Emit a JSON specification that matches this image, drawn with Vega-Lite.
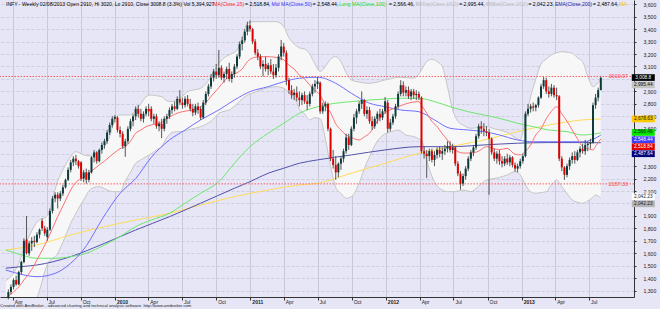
{
"$schema":"https://vega.github.io/schema/vega-lite/v6.json",
"width":634,"height":297,
"autosize":{"type":"none"},
"padding":{"left":0,"top":0,"right":26,"bottom":12},
"background":"#e6e6f7",
"config":{"view":{"stroke":null,"fill":"#e6e6f7"},"font":"Liberation Sans",
 "axisY":{"tickCount":24,"labelExpr":"indexof([3000,2500,2400,2000], datum.value) >= 0 ? '' : format(datum.value, ',')","labelOverlap":false,"grid":true,"gridColor":"#cdcddc","gridDash":[3,2],"labelFontSize":5.1,"labelColor":"#222","labelPadding":7,"tickSize":2,"tickColor":"#333","domainColor":"#333","labelAlign":"left","labelBaseline":"middle"}},
"title":{"text":"Created with AmiBroker - advanced charting and technical analysis software. http://www.amibroker.com","orient":"bottom","anchor":"start","frame":"group","fontSize":4.2,"fontWeight":"normal","color":"#222","offset":0},
"datasets":{
"candles":[
{"d":"2009-03-20","o":1240,"h":1310,"l":1230,"c":1290},
{"d":"2009-03-27","o":1290,"h":1350,"l":1270,"c":1330},
{"d":"2009-04-03","o":1330,"h":1400,"l":1310,"c":1385},
{"d":"2009-04-10","o":1385,"h":1420,"l":1340,"c":1350},
{"d":"2009-04-17","o":1350,"h":1460,"l":1345,"c":1450},
{"d":"2009-04-24","o":1450,"h":1540,"l":1430,"c":1530},
{"d":"2009-05-01","o":1530,"h":1720,"l":1520,"c":1700},
{"d":"2009-05-08","o":1710,"h":1900,"l":1590,"c":1600},
{"d":"2009-05-15","o":1600,"h":1700,"l":1580,"c":1680},
{"d":"2009-05-22","o":1680,"h":1730,"l":1620,"c":1700},
{"d":"2009-05-29","o":1700,"h":1740,"l":1650,"c":1690},
{"d":"2009-06-05","o":1690,"h":1770,"l":1680,"c":1750},
{"d":"2009-06-12","o":1750,"h":1800,"l":1720,"c":1790},
{"d":"2009-06-19","o":1860,"h":1880,"l":1780,"c":1800},
{"d":"2009-06-26","o":1800,"h":1820,"l":1740,"c":1760},
{"d":"2009-07-03","o":1730,"h":1810,"l":1700,"c":1790},
{"d":"2009-07-10","o":1790,"h":1960,"l":1780,"c":1940},
{"d":"2009-07-17","o":1940,"h":2060,"l":1920,"c":2040},
{"d":"2009-07-24","o":2040,"h":2090,"l":2010,"c":2070},
{"d":"2009-07-31","o":2070,"h":2090,"l":1960,"c":2040},
{"d":"2009-08-07","o":2040,"h":2100,"l":2020,"c":2080},
{"d":"2009-08-14","o":2080,"h":2150,"l":2060,"c":2130},
{"d":"2009-08-21","o":2130,"h":2200,"l":2120,"c":2190},
{"d":"2009-08-28","o":2190,"h":2290,"l":2180,"c":2270},
{"d":"2009-09-04","o":2270,"h":2350,"l":2250,"c":2330},
{"d":"2009-09-11","o":2330,"h":2380,"l":2300,"c":2360},
{"d":"2009-09-18","o":2360,"h":2390,"l":2310,"c":2340},
{"d":"2009-09-25","o":2340,"h":2350,"l":2280,"c":2300},
{"d":"2009-10-02","o":2330,"h":2340,"l":2180,"c":2200},
{"d":"2009-10-09","o":2200,"h":2270,"l":2170,"c":2250},
{"d":"2009-10-16","o":2250,"h":2280,"l":2160,"c":2190},
{"d":"2009-10-23","o":2190,"h":2270,"l":2170,"c":2250},
{"d":"2009-10-30","o":2250,"h":2380,"l":2240,"c":2370},
{"d":"2009-11-06","o":2370,"h":2430,"l":2330,"c":2410},
{"d":"2009-11-13","o":2410,"h":2420,"l":2320,"c":2340},
{"d":"2009-11-20","o":2340,"h":2440,"l":2330,"c":2430},
{"d":"2009-11-27","o":2430,"h":2490,"l":2400,"c":2470},
{"d":"2009-12-04","o":2470,"h":2520,"l":2440,"c":2500},
{"d":"2009-12-11","o":2500,"h":2590,"l":2480,"c":2570},
{"d":"2009-12-18","o":2570,"h":2650,"l":2550,"c":2630},
{"d":"2009-12-25","o":2630,"h":2700,"l":2610,"c":2680},
{"d":"2010-01-01","o":2680,"h":2710,"l":2650,"c":2695},
{"d":"2010-01-08","o":2690,"h":2700,"l":2570,"c":2590},
{"d":"2010-01-15","o":2590,"h":2620,"l":2530,"c":2560},
{"d":"2010-01-22","o":2560,"h":2580,"l":2440,"c":2460},
{"d":"2010-01-29","o":2460,"h":2520,"l":2375,"c":2500},
{"d":"2010-02-05","o":2500,"h":2620,"l":2480,"c":2600},
{"d":"2010-02-12","o":2600,"h":2680,"l":2580,"c":2660},
{"d":"2010-02-19","o":2660,"h":2720,"l":2620,"c":2700},
{"d":"2010-02-26","o":2700,"h":2780,"l":2670,"c":2760},
{"d":"2010-03-05","o":2760,"h":2790,"l":2690,"c":2720},
{"d":"2010-03-12","o":2720,"h":2760,"l":2660,"c":2680},
{"d":"2010-03-19","o":2680,"h":2740,"l":2650,"c":2720},
{"d":"2010-03-26","o":2720,"h":2780,"l":2700,"c":2760},
{"d":"2010-04-02","o":2760,"h":2800,"l":2700,"c":2740},
{"d":"2010-04-09","o":2760,"h":2780,"l":2660,"c":2680},
{"d":"2010-04-16","o":2680,"h":2720,"l":2640,"c":2700},
{"d":"2010-04-23","o":2700,"h":2720,"l":2600,"c":2620},
{"d":"2010-04-30","o":2620,"h":2660,"l":2580,"c":2640},
{"d":"2010-05-07","o":2640,"h":2680,"l":2525,"c":2600},
{"d":"2010-05-14","o":2600,"h":2700,"l":2580,"c":2680},
{"d":"2010-05-21","o":2680,"h":2720,"l":2640,"c":2700},
{"d":"2010-05-28","o":2700,"h":2770,"l":2680,"c":2750},
{"d":"2010-06-04","o":2750,"h":2800,"l":2720,"c":2780},
{"d":"2010-06-11","o":2780,"h":2820,"l":2740,"c":2760},
{"d":"2010-06-18","o":2760,"h":2860,"l":2750,"c":2840},
{"d":"2010-06-25","o":2840,"h":2910,"l":2790,"c":2810},
{"d":"2010-07-02","o":2810,"h":2850,"l":2760,"c":2790},
{"d":"2010-07-09","o":2790,"h":2860,"l":2770,"c":2840},
{"d":"2010-07-16","o":2840,"h":2870,"l":2780,"c":2800},
{"d":"2010-07-23","o":2800,"h":2840,"l":2740,"c":2760},
{"d":"2010-07-30","o":2760,"h":2800,"l":2700,"c":2730},
{"d":"2010-08-06","o":2730,"h":2800,"l":2710,"c":2780},
{"d":"2010-08-13","o":2780,"h":2810,"l":2720,"c":2750},
{"d":"2010-08-20","o":2760,"h":2780,"l":2670,"c":2690},
{"d":"2010-08-27","o":2690,"h":2830,"l":2680,"c":2810},
{"d":"2010-09-03","o":2810,"h":2900,"l":2790,"c":2880},
{"d":"2010-09-10","o":2880,"h":2960,"l":2860,"c":2940},
{"d":"2010-09-17","o":2940,"h":3040,"l":2920,"c":3010},
{"d":"2010-09-24","o":3010,"h":3080,"l":2980,"c":3060},
{"d":"2010-10-01","o":3060,"h":3120,"l":3000,"c":3030},
{"d":"2010-10-08","o":3030,"h":3233,"l":3010,"c":3090},
{"d":"2010-10-15","o":3090,"h":3110,"l":2990,"c":3010},
{"d":"2010-10-22","o":3010,"h":3060,"l":2970,"c":3040},
{"d":"2010-10-29","o":3040,"h":3100,"l":3000,"c":3080},
{"d":"2010-11-05","o":3080,"h":3130,"l":2980,"c":3000},
{"d":"2010-11-12","o":3000,"h":3060,"l":2970,"c":3040},
{"d":"2010-11-19","o":3040,"h":3120,"l":3010,"c":3100},
{"d":"2010-11-26","o":3100,"h":3200,"l":3080,"c":3180},
{"d":"2010-12-03","o":3180,"h":3300,"l":3160,"c":3280},
{"d":"2010-12-10","o":3280,"h":3340,"l":3230,"c":3310},
{"d":"2010-12-17","o":3310,"h":3400,"l":3290,"c":3380},
{"d":"2010-12-24","o":3380,"h":3460,"l":3350,"c":3430},
{"d":"2010-12-31","o":3430,"h":3470,"l":3380,"c":3400},
{"d":"2011-01-07","o":3400,"h":3410,"l":3280,"c":3300},
{"d":"2011-01-14","o":3300,"h":3320,"l":3190,"c":3210},
{"d":"2011-01-21","o":3210,"h":3240,"l":3150,"c":3180},
{"d":"2011-01-28","o":3180,"h":3200,"l":3080,"c":3100},
{"d":"2011-02-04","o":3100,"h":3150,"l":3020,"c":3120},
{"d":"2011-02-11","o":3120,"h":3180,"l":3060,"c":3080},
{"d":"2011-02-18","o":3080,"h":3130,"l":3030,"c":3110},
{"d":"2011-02-25","o":3110,"h":3160,"l":3040,"c":3060},
{"d":"2011-03-04","o":3060,"h":3120,"l":3000,"c":3030},
{"d":"2011-03-11","o":3030,"h":3120,"l":3010,"c":3090},
{"d":"2011-03-18","o":3090,"h":3200,"l":3060,"c":3180},
{"d":"2011-03-25","o":3180,"h":3313,"l":3150,"c":3260},
{"d":"2011-04-01","o":3260,"h":3290,"l":3180,"c":3210},
{"d":"2011-04-08","o":3210,"h":3230,"l":2950,"c":2990},
{"d":"2011-04-15","o":2990,"h":3010,"l":2880,"c":2910},
{"d":"2011-04-22","o":2910,"h":2950,"l":2840,"c":2870},
{"d":"2011-04-29","o":2870,"h":2920,"l":2830,"c":2890},
{"d":"2011-05-06","o":2890,"h":2940,"l":2820,"c":2850},
{"d":"2011-05-13","o":2850,"h":2900,"l":2780,"c":2830},
{"d":"2011-05-20","o":2830,"h":2890,"l":2790,"c":2870},
{"d":"2011-05-27","o":2870,"h":2900,"l":2800,"c":2820},
{"d":"2011-06-03","o":2820,"h":2870,"l":2750,"c":2800},
{"d":"2011-06-10","o":2800,"h":2900,"l":2780,"c":2880},
{"d":"2011-06-17","o":2880,"h":2960,"l":2860,"c":2940},
{"d":"2011-06-24","o":2940,"h":2990,"l":2890,"c":2960},
{"d":"2011-07-01","o":2960,"h":3015,"l":2920,"c":2980},
{"d":"2011-07-08","o":2970,"h":2980,"l":2720,"c":2740},
{"d":"2011-07-15","o":2740,"h":2810,"l":2720,"c":2780},
{"d":"2011-07-22","o":2780,"h":2820,"l":2740,"c":2800},
{"d":"2011-07-29","o":2800,"h":2810,"l":2580,"c":2600},
{"d":"2011-08-05","o":2600,"h":2610,"l":2340,"c":2360},
{"d":"2011-08-12","o":2360,"h":2430,"l":2280,"c":2310},
{"d":"2011-08-19","o":2310,"h":2380,"l":2190,"c":2250},
{"d":"2011-08-26","o":2250,"h":2330,"l":2210,"c":2320},
{"d":"2011-09-02","o":2320,"h":2380,"l":2270,"c":2360},
{"d":"2011-09-09","o":2360,"h":2440,"l":2330,"c":2420},
{"d":"2011-09-16","o":2420,"h":2560,"l":2400,"c":2530},
{"d":"2011-09-23","o":2530,"h":2560,"l":2430,"c":2470},
{"d":"2011-09-30","o":2470,"h":2620,"l":2460,"c":2600},
{"d":"2011-10-07","o":2600,"h":2720,"l":2580,"c":2690},
{"d":"2011-10-14","o":2690,"h":2760,"l":2640,"c":2740},
{"d":"2011-10-21","o":2740,"h":2820,"l":2720,"c":2800},
{"d":"2011-10-28","o":2800,"h":2900,"l":2760,"c":2830},
{"d":"2011-11-04","o":2830,"h":2840,"l":2700,"c":2720},
{"d":"2011-11-11","o":2720,"h":2780,"l":2680,"c":2750},
{"d":"2011-11-18","o":2750,"h":2775,"l":2640,"c":2660},
{"d":"2011-11-25","o":2660,"h":2700,"l":2590,"c":2620},
{"d":"2011-12-02","o":2620,"h":2700,"l":2600,"c":2680},
{"d":"2011-12-09","o":2680,"h":2740,"l":2640,"c":2720},
{"d":"2011-12-16","o":2720,"h":2760,"l":2660,"c":2690},
{"d":"2011-12-23","o":2690,"h":2760,"l":2670,"c":2740},
{"d":"2011-12-30","o":2740,"h":2855,"l":2720,"c":2820},
{"d":"2012-01-06","o":2810,"h":2830,"l":2570,"c":2600},
{"d":"2012-01-13","o":2600,"h":2680,"l":2580,"c":2650},
{"d":"2012-01-20","o":2650,"h":2720,"l":2630,"c":2700},
{"d":"2012-01-27","o":2700,"h":2800,"l":2680,"c":2780},
{"d":"2012-02-03","o":2780,"h":2900,"l":2760,"c":2880},
{"d":"2012-02-10","o":2880,"h":2990,"l":2860,"c":2950},
{"d":"2012-02-17","o":2950,"h":2980,"l":2860,"c":2890},
{"d":"2012-02-24","o":2890,"h":2940,"l":2860,"c":2910},
{"d":"2012-03-02","o":2910,"h":2940,"l":2840,"c":2860},
{"d":"2012-03-09","o":2860,"h":2920,"l":2830,"c":2900},
{"d":"2012-03-16","o":2900,"h":2920,"l":2840,"c":2870},
{"d":"2012-03-23","o":2870,"h":2910,"l":2830,"c":2880},
{"d":"2012-03-30","o":2880,"h":2900,"l":2830,"c":2850},
{"d":"2012-04-06","o":2850,"h":2860,"l":2400,"c":2420},
{"d":"2012-04-13","o":2420,"h":2460,"l":2360,"c":2400},
{"d":"2012-04-20","o":2400,"h":2430,"l":2205,"c":2380},
{"d":"2012-04-27","o":2380,"h":2440,"l":2340,"c":2420},
{"d":"2012-05-04","o":2420,"h":2440,"l":2330,"c":2350},
{"d":"2012-05-11","o":2350,"h":2420,"l":2300,"c":2390},
{"d":"2012-05-18","o":2390,"h":2450,"l":2360,"c":2430},
{"d":"2012-05-25","o":2430,"h":2460,"l":2370,"c":2400},
{"d":"2012-06-01","o":2400,"h":2450,"l":2350,"c":2420},
{"d":"2012-06-08","o":2420,"h":2470,"l":2390,"c":2440},
{"d":"2012-06-15","o":2440,"h":2500,"l":2410,"c":2460},
{"d":"2012-06-22","o":2460,"h":2500,"l":2410,"c":2430},
{"d":"2012-06-29","o":2430,"h":2480,"l":2400,"c":2450},
{"d":"2012-07-06","o":2450,"h":2460,"l":2300,"c":2320},
{"d":"2012-07-13","o":2320,"h":2340,"l":2220,"c":2240},
{"d":"2012-07-20","o":2240,"h":2260,"l":2110,"c":2160},
{"d":"2012-07-27","o":2160,"h":2240,"l":2140,"c":2220},
{"d":"2012-08-03","o":2220,"h":2300,"l":2190,"c":2280},
{"d":"2012-08-10","o":2280,"h":2380,"l":2260,"c":2360},
{"d":"2012-08-17","o":2360,"h":2430,"l":2340,"c":2410},
{"d":"2012-08-24","o":2410,"h":2470,"l":2380,"c":2450},
{"d":"2012-08-31","o":2450,"h":2560,"l":2430,"c":2540},
{"d":"2012-09-07","o":2540,"h":2640,"l":2520,"c":2620},
{"d":"2012-09-14","o":2620,"h":2660,"l":2560,"c":2600},
{"d":"2012-09-21","o":2600,"h":2645,"l":2540,"c":2580},
{"d":"2012-09-28","o":2580,"h":2620,"l":2540,"c":2570},
{"d":"2012-10-05","o":2570,"h":2600,"l":2070,"c":2520},
{"d":"2012-10-12","o":2520,"h":2530,"l":2390,"c":2410},
{"d":"2012-10-19","o":2410,"h":2440,"l":2340,"c":2360},
{"d":"2012-10-26","o":2360,"h":2420,"l":2320,"c":2400},
{"d":"2012-11-02","o":2400,"h":2430,"l":2310,"c":2340},
{"d":"2012-11-09","o":2340,"h":2380,"l":2290,"c":2320},
{"d":"2012-11-16","o":2320,"h":2380,"l":2300,"c":2360},
{"d":"2012-11-23","o":2360,"h":2400,"l":2310,"c":2330},
{"d":"2012-11-30","o":2330,"h":2390,"l":2300,"c":2370},
{"d":"2012-12-07","o":2370,"h":2380,"l":2290,"c":2310},
{"d":"2012-12-14","o":2310,"h":2330,"l":2255,"c":2280},
{"d":"2012-12-21","o":2280,"h":2320,"l":2250,"c":2300},
{"d":"2012-12-28","o":2300,"h":2360,"l":2280,"c":2340},
{"d":"2013-01-04","o":2340,"h":2400,"l":2320,"c":2380},
{"d":"2013-01-11","o":2380,"h":2740,"l":2370,"c":2720},
{"d":"2013-01-18","o":2720,"h":2800,"l":2700,"c":2760},
{"d":"2013-01-25","o":2760,"h":2800,"l":2730,"c":2780},
{"d":"2013-02-01","o":2780,"h":2810,"l":2740,"c":2770},
{"d":"2013-02-08","o":2770,"h":2800,"l":2740,"c":2790},
{"d":"2013-02-15","o":2790,"h":2860,"l":2770,"c":2850},
{"d":"2013-02-22","o":2850,"h":2960,"l":2840,"c":2940},
{"d":"2013-03-01","o":2940,"h":3015,"l":2920,"c":2990},
{"d":"2013-03-08","o":2990,"h":3010,"l":2880,"c":2900},
{"d":"2013-03-15","o":2900,"h":2940,"l":2850,"c":2880},
{"d":"2013-03-22","o":2880,"h":2960,"l":2860,"c":2930},
{"d":"2013-03-29","o":2930,"h":2950,"l":2850,"c":2870},
{"d":"2013-04-05","o":2870,"h":2930,"l":2830,"c":2860},
{"d":"2013-04-12","o":2860,"h":2870,"l":2340,"c":2360},
{"d":"2013-04-19","o":2360,"h":2380,"l":2260,"c":2290},
{"d":"2013-04-26","o":2290,"h":2300,"l":2190,"c":2230},
{"d":"2013-05-03","o":2230,"h":2320,"l":2210,"c":2300},
{"d":"2013-05-10","o":2300,"h":2370,"l":2270,"c":2350},
{"d":"2013-05-17","o":2350,"h":2410,"l":2320,"c":2380},
{"d":"2013-05-24","o":2380,"h":2420,"l":2320,"c":2350},
{"d":"2013-05-31","o":2350,"h":2430,"l":2340,"c":2410},
{"d":"2013-06-07","o":2410,"h":2460,"l":2370,"c":2440},
{"d":"2013-06-14","o":2440,"h":2480,"l":2400,"c":2420},
{"d":"2013-06-21","o":2420,"h":2510,"l":2390,"c":2470},
{"d":"2013-06-28","o":2470,"h":2500,"l":2420,"c":2480},
{"d":"2013-07-05","o":2480,"h":2520,"l":2440,"c":2490},
{"d":"2013-07-12","o":2490,"h":2810,"l":2480,"c":2790},
{"d":"2013-07-19","o":2790,"h":2880,"l":2760,"c":2850},
{"d":"2013-07-26","o":2850,"h":2930,"l":2820,"c":2910},
{"d":"2013-08-02","o":2910,"h":3020,"l":2910,"c":3008.8}
],
"bb":[
{"d":"2009-03-13","m":1240,"u":1380,"l":1100},
{"d":"2009-04-03","m":1290,"u":1440,"l":1140},
{"d":"2009-04-17","m":1330,"u":1520,"l":1140},
{"d":"2009-05-01","m":1386,"u":1640,"l":1130},
{"d":"2009-05-22","m":1470,"u":1780,"l":1160},
{"d":"2009-06-05","m":1546,"u":1850,"l":1240},
{"d":"2009-07-03","m":1707,"u":1900,"l":1510},
{"d":"2009-07-31","m":1894,"u":2180,"l":1600},
{"d":"2009-08-14","m":1980,"u":2269,"l":1690},
{"d":"2009-09-04","m":2108,"u":2376,"l":1840},
{"d":"2009-09-18","m":2170,"u":2416,"l":1920},
{"d":"2009-10-09","m":2210,"u":2390,"l":2030},
{"d":"2009-10-30","m":2260,"u":2380,"l":2120},
{"d":"2009-11-20","m":2310,"u":2420,"l":2135},
{"d":"2009-12-04","m":2340,"u":2456,"l":2120},
{"d":"2009-12-18","m":2376,"u":2537,"l":2100},
{"d":"2010-01-01","m":2410,"u":2680,"l":2095},
{"d":"2010-01-15","m":2440,"u":2711,"l":2095},
{"d":"2010-01-29","m":2456,"u":2711,"l":2180},
{"d":"2010-02-12","m":2500,"u":2711,"l":2250},
{"d":"2010-02-26","m":2564,"u":2751,"l":2323},
{"d":"2010-03-12","m":2590,"u":2800,"l":2350},
{"d":"2010-03-26","m":2617,"u":2858,"l":2376},
{"d":"2010-04-09","m":2630,"u":2871,"l":2400},
{"d":"2010-04-23","m":2640,"u":2865,"l":2430},
{"d":"2010-05-07","m":2650,"u":2858,"l":2456},
{"d":"2010-05-21","m":2680,"u":2825,"l":2530},
{"d":"2010-06-04","m":2705,"u":2818,"l":2570},
{"d":"2010-06-18","m":2725,"u":2835,"l":2577},
{"d":"2010-07-02","m":2737,"u":2860,"l":2577},
{"d":"2010-07-16","m":2745,"u":2898,"l":2590},
{"d":"2010-07-30","m":2750,"u":2910,"l":2600},
{"d":"2010-08-20","m":2777,"u":2925,"l":2617},
{"d":"2010-09-03","m":2810,"u":2960,"l":2635},
{"d":"2010-09-17","m":2860,"u":3018,"l":2660},
{"d":"2010-10-08","m":2930,"u":3126,"l":2724},
{"d":"2010-10-22","m":2980,"u":3170,"l":2740},
{"d":"2010-11-05","m":3018,"u":3193,"l":2751},
{"d":"2010-11-26","m":3050,"u":3233,"l":2800},
{"d":"2010-12-10","m":3080,"u":3330,"l":2840},
{"d":"2010-12-24","m":3139,"u":3447,"l":2870},
{"d":"2011-01-14","m":3174,"u":3460,"l":2895},
{"d":"2011-02-11","m":3179,"u":3460,"l":2925},
{"d":"2011-03-11","m":3174,"u":3460,"l":2938},
{"d":"2011-04-01","m":3153,"u":3420,"l":2925},
{"d":"2011-04-15","m":3110,"u":3330,"l":2890},
{"d":"2011-04-29","m":3080,"u":3280,"l":2858},
{"d":"2011-05-13","m":3030,"u":3250,"l":2760},
{"d":"2011-05-27","m":3000,"u":3240,"l":2720},
{"d":"2011-06-10","m":2950,"u":3200,"l":2671},
{"d":"2011-06-24","m":2910,"u":3120,"l":2690},
{"d":"2011-07-08","m":2870,"u":3060,"l":2680},
{"d":"2011-07-22","m":2790,"u":3100,"l":2520},
{"d":"2011-08-05","m":2730,"u":3160,"l":2300},
{"d":"2011-08-19","m":2640,"u":3179,"l":2130},
{"d":"2011-09-02","m":2590,"u":3139,"l":2080},
{"d":"2011-09-16","m":2550,"u":3050,"l":2042},
{"d":"2011-09-30","m":2530,"u":2992,"l":2055},
{"d":"2011-10-21","m":2510,"u":2975,"l":2162},
{"d":"2011-11-04","m":2535,"u":2968,"l":2280},
{"d":"2011-11-18","m":2564,"u":2965,"l":2376},
{"d":"2011-12-09","m":2660,"u":2975,"l":2500},
{"d":"2011-12-30","m":2730,"u":2992,"l":2560},
{"d":"2012-01-20","m":2760,"u":3005,"l":2580},
{"d":"2012-02-03","m":2777,"u":3014,"l":2590},
{"d":"2012-02-24","m":2800,"u":3010,"l":2550},
{"d":"2012-03-16","m":2815,"u":3006,"l":2537},
{"d":"2012-03-30","m":2818,"u":3040,"l":2520},
{"d":"2012-04-06","m":2790,"u":3072,"l":2510},
{"d":"2012-04-20","m":2724,"u":3139,"l":2350},
{"d":"2012-05-04","m":2660,"u":3158,"l":2220},
{"d":"2012-05-18","m":2617,"u":3140,"l":2140},
{"d":"2012-06-01","m":2560,"u":3099,"l":2108},
{"d":"2012-06-15","m":2510,"u":2938,"l":2095},
{"d":"2012-06-29","m":2450,"u":2751,"l":2095},
{"d":"2012-07-13","m":2416,"u":2660,"l":2100},
{"d":"2012-07-27","m":2405,"u":2630,"l":2108},
{"d":"2012-08-17","m":2405,"u":2604,"l":2095},
{"d":"2012-09-07","m":2420,"u":2610,"l":2140},
{"d":"2012-09-28","m":2456,"u":2617,"l":2189},
{"d":"2012-10-19","m":2440,"u":2600,"l":2200},
{"d":"2012-11-02","m":2432,"u":2590,"l":2210},
{"d":"2012-11-23","m":2443,"u":2570,"l":2229},
{"d":"2012-12-14","m":2395,"u":2530,"l":2256},
{"d":"2012-12-28","m":2390,"u":2510,"l":2230},
{"d":"2013-01-11","m":2420,"u":2671,"l":2150},
{"d":"2013-01-25","m":2470,"u":2860,"l":2095},
{"d":"2013-02-08","m":2550,"u":3000,"l":2082},
{"d":"2013-02-22","m":2600,"u":3120,"l":2088},
{"d":"2013-03-08","m":2680,"u":3160,"l":2095},
{"d":"2013-03-22","m":2740,"u":3193,"l":2150},
{"d":"2013-04-05","m":2777,"u":3210,"l":2189},
{"d":"2013-04-19","m":2720,"u":3219,"l":2135},
{"d":"2013-05-03","m":2660,"u":3215,"l":2080},
{"d":"2013-05-17","m":2590,"u":3206,"l":2028},
{"d":"2013-05-31","m":2520,"u":3170,"l":2010},
{"d":"2013-06-14","m":2456,"u":3139,"l":2002},
{"d":"2013-06-28","m":2440,"u":3020,"l":2020},
{"d":"2013-07-12","m":2430,"u":2938,"l":2050},
{"d":"2013-07-19","m":2460,"u":2950,"l":2068},
{"d":"2013-08-02","m":2518.84,"u":2995.44,"l":2042.23}
],
"slow":[
{"d":"2009-03-13","s":"ma50","v":1466},{"d":"2009-05-01","s":"ma50","v":1426},{"d":"2009-06-05","s":"ma50","v":1412},{"d":"2009-07-24","s":"ma50","v":1439},{"d":"2009-09-04","s":"ma50","v":1520},{"d":"2009-09-25","s":"ma50","v":1580},{"d":"2009-10-16","s":"ma50","v":1660},{"d":"2009-11-27","s":"ma50","v":1870},{"d":"2010-01-15","s":"ma50","v":2082},{"d":"2010-02-26","s":"ma50","v":2200},{"d":"2010-04-09","s":"ma50","v":2370},{"d":"2010-05-28","s":"ma50","v":2510},{"d":"2010-07-09","s":"ma50","v":2590},{"d":"2010-08-20","s":"ma50","v":2671},{"d":"2010-10-08","s":"ma50","v":2751},{"d":"2010-11-19","s":"ma50","v":2831},{"d":"2010-12-31","s":"ma50","v":2898},{"d":"2011-02-18","s":"ma50","v":2938},{"d":"2011-04-01","s":"ma50","v":2978},{"d":"2011-05-13","s":"ma50","v":3006},{"d":"2011-07-01","s":"ma50","v":3014},{"d":"2011-08-19","s":"ma50","v":2965},{"d":"2011-09-30","s":"ma50","v":2885},{"d":"2011-11-18","s":"ma50","v":2805},{"d":"2011-12-30","s":"ma50","v":2777},{"d":"2012-02-10","s":"ma50","v":2751},{"d":"2012-03-30","s":"ma50","v":2737},{"d":"2012-05-11","s":"ma50","v":2671},{"d":"2012-06-22","s":"ma50","v":2604},{"d":"2012-08-10","s":"ma50","v":2590},{"d":"2012-09-21","s":"ma50","v":2577},{"d":"2012-11-02","s":"ma50","v":2550},{"d":"2012-12-21","s":"ma50","v":2510},{"d":"2013-02-01","s":"ma50","v":2496},{"d":"2013-03-15","s":"ma50","v":2496},{"d":"2013-05-03","s":"ma50","v":2496},{"d":"2013-06-14","s":"ma50","v":2496},{"d":"2013-07-12","s":"ma50","v":2515},{"d":"2013-08-02","s":"ma50","v":2548.44},
{"d":"2009-03-13","s":"ma100","v":1627},{"d":"2009-04-24","s":"ma100","v":1587},{"d":"2009-06-05","s":"ma100","v":1560},{"d":"2009-07-24","s":"ma100","v":1560},{"d":"2009-09-04","s":"ma100","v":1573},{"d":"2009-10-16","s":"ma100","v":1600},{"d":"2009-12-04","s":"ma100","v":1667},{"d":"2010-01-15","s":"ma100","v":1734},{"d":"2010-02-26","s":"ma100","v":1814},{"d":"2010-04-09","s":"ma100","v":1867},{"d":"2010-05-28","s":"ma100","v":1921},{"d":"2010-07-09","s":"ma100","v":2002},{"d":"2010-08-20","s":"ma100","v":2082},{"d":"2010-10-08","s":"ma100","v":2175},{"d":"2010-11-19","s":"ma100","v":2323},{"d":"2010-12-31","s":"ma100","v":2456},{"d":"2011-02-18","s":"ma100","v":2564},{"d":"2011-04-01","s":"ma100","v":2644},{"d":"2011-05-13","s":"ma100","v":2724},{"d":"2011-07-01","s":"ma100","v":2777},{"d":"2011-08-19","s":"ma100","v":2805},{"d":"2011-09-30","s":"ma100","v":2818},{"d":"2011-11-18","s":"ma100","v":2831},{"d":"2011-12-30","s":"ma100","v":2839},{"d":"2012-02-10","s":"ma100","v":2845},{"d":"2012-03-30","s":"ma100","v":2845},{"d":"2012-05-11","s":"ma100","v":2818},{"d":"2012-06-22","s":"ma100","v":2777},{"d":"2012-08-10","s":"ma100","v":2737},{"d":"2012-09-21","s":"ma100","v":2711},{"d":"2012-11-02","s":"ma100","v":2684},{"d":"2012-12-21","s":"ma100","v":2644},{"d":"2013-02-01","s":"ma100","v":2617},{"d":"2013-03-15","s":"ma100","v":2590},{"d":"2013-05-03","s":"ma100","v":2577},{"d":"2013-06-14","s":"ma100","v":2550},{"d":"2013-08-02","s":"ma100","v":2566.46},
{"d":"2009-03-13","s":"ema200","v":1480},{"d":"2009-04-24","s":"ema200","v":1493},{"d":"2009-06-05","s":"ema200","v":1506},{"d":"2009-09-04","s":"ema200","v":1573},{"d":"2009-12-04","s":"ema200","v":1680},{"d":"2010-02-26","s":"ema200","v":1787},{"d":"2010-05-28","s":"ema200","v":1894},{"d":"2010-08-20","s":"ema200","v":2002},{"d":"2010-11-19","s":"ema200","v":2122},{"d":"2010-12-31","s":"ema200","v":2175},{"d":"2011-02-18","s":"ema200","v":2243},{"d":"2011-04-01","s":"ema200","v":2283},{"d":"2011-05-13","s":"ema200","v":2323},{"d":"2011-07-01","s":"ema200","v":2350},{"d":"2011-09-30","s":"ema200","v":2390},{"d":"2011-12-30","s":"ema200","v":2430},{"d":"2012-03-30","s":"ema200","v":2456},{"d":"2012-06-22","s":"ema200","v":2456},{"d":"2012-09-21","s":"ema200","v":2470},{"d":"2012-12-21","s":"ema200","v":2484},{"d":"2013-03-15","s":"ema200","v":2489},{"d":"2013-06-14","s":"ema200","v":2489},{"d":"2013-08-02","s":"ema200","v":2487.64},
{"d":"2009-03-13","s":"ma200","v":1627},{"d":"2009-06-05","s":"ma200","v":1667},{"d":"2009-09-04","s":"ma200","v":1747},{"d":"2009-12-04","s":"ma200","v":1814},{"d":"2010-02-26","s":"ma200","v":1867},{"d":"2010-05-28","s":"ma200","v":1921},{"d":"2010-08-20","s":"ma200","v":1988},{"d":"2010-11-19","s":"ma200","v":2055},{"d":"2011-02-18","s":"ma200","v":2108},{"d":"2011-05-13","s":"ma200","v":2149},{"d":"2011-07-01","s":"ma200","v":2162},{"d":"2011-09-30","s":"ma200","v":2243},{"d":"2011-12-30","s":"ma200","v":2323},{"d":"2012-03-30","s":"ma200","v":2403},{"d":"2012-06-22","s":"ma200","v":2456},{"d":"2012-09-21","s":"ma200","v":2510},{"d":"2012-12-21","s":"ma200","v":2577},{"d":"2013-03-15","s":"ma200","v":2630},{"d":"2013-06-14","s":"ma200","v":2671},{"d":"2013-08-02","s":"ma200","v":2678.63}
]
},
"layer":[
{"data":{"name":"bb"},
 "mark":{"type":"area","color":"#f7f7f7","opacity":1,"interpolate":"monotone","clip":true},
 "encoding":{
  "x":{"field":"d","type":"temporal","title":null,
   "scale":{"domain":[1236729600000,1381968000000]},
   "axis":{"orient":"bottom","grid":true,"gridColor":"#c8c8d6","gridWidth":1,
    "gridOpacity":{"condition":{"test":"datum.value > 1377000000000","value":0},"value":1},
    "tickOpacity":{"condition":{"test":"datum.value > 1377000000000","value":0},"value":1},
    "tickCount":{"interval":"month","step":3},
    "labelExpr":"datum.value > 1377000000000 ? '' : (month(datum.value)==0 ? timeFormat(datum.value,'%Y') : timeFormat(datum.value,'%b'))",
    "labelFontWeight":{"condition":{"test":"month(datum.value)==0","value":"bold"},"value":"normal"},
    "labelAlign":"left","labelBaseline":"top","labelFontSize":5,"labelColor":"#222","labelPadding":-1,"labelOffset":1.5,
    "labelFlush":false,"labelOverlap":false,"tickSize":3,"tickColor":"#333","domainColor":"#333","title":null}},
  "y":{"field":"l","type":"quantitative","title":null,
   "scale":{"domain":[1249,3634],"nice":false,"zero":false},
   "axis":{"orient":"right","labelOverlap":false,"title":null}},
  "y2":{"field":"u"}}},
{"data":{"name":"bb"},"mark":{"type":"line","color":"#c6c6c6","strokeWidth":1,"interpolate":"monotone","clip":true},
 "encoding":{"x":{"field":"d","type":"temporal","title":null},"y":{"field":"u","type":"quantitative","title":null}}},
{"data":{"name":"bb"},"mark":{"type":"line","color":"#c6c6c6","strokeWidth":1,"interpolate":"monotone","clip":true},
 "encoding":{"x":{"field":"d","type":"temporal","title":null},"y":{"field":"l","type":"quantitative","title":null}}},
{"data":{"name":"slow"},"transform":[{"filter":"datum.s=='ma200'"}],"mark":{"type":"line","color":"#ffdc5a","strokeWidth":1,"interpolate":"monotone","clip":true},
 "encoding":{"x":{"field":"d","type":"temporal","title":null},"y":{"field":"v","type":"quantitative","title":null}}},
{"data":{"name":"slow"},"transform":[{"filter":"datum.s=='ema200'"}],"mark":{"type":"line","color":"#5252ad","strokeWidth":1,"interpolate":"monotone","clip":true},
 "encoding":{"x":{"field":"d","type":"temporal","title":null},"y":{"field":"v","type":"quantitative","title":null}}},
{"data":{"name":"slow"},"transform":[{"filter":"datum.s=='ma100'"}],"mark":{"type":"line","color":"#6ee66e","strokeWidth":1,"interpolate":"monotone","clip":true},
 "encoding":{"x":{"field":"d","type":"temporal","title":null},"y":{"field":"v","type":"quantitative","title":null}}},
{"data":{"name":"slow"},"transform":[{"filter":"datum.s=='ma50'"}],"mark":{"type":"line","color":"#6f6fff","strokeWidth":1,"interpolate":"monotone","clip":true},
 "encoding":{"x":{"field":"d","type":"temporal","title":null},"y":{"field":"v","type":"quantitative","title":null}}},
{"data":{"name":"bb"},"mark":{"type":"line","color":"#ff6f6f","strokeWidth":1,"interpolate":"monotone","clip":true},
 "encoding":{"x":{"field":"d","type":"temporal","title":null},"y":{"field":"m","type":"quantitative","title":null}}},
{"data":{"values":[{"v":3019.97,"t":"3019.97"},{"v":2157.33,"t":"2157.33"}]},
 "mark":{"type":"rule","color":"#ff5a5a","strokeWidth":1,"strokeDash":[1.5,1.5]},
 "encoding":{"y":{"field":"v","type":"quantitative","title":null}}},
{"data":{"values":[{"v":3019.97,"t":"3019.97"},{"v":2157.33,"t":"2157.33"}]},
 "mark":{"type":"text","color":"#ff4a4a","fontSize":5.3,"align":"right","baseline":"middle"},
 "encoding":{"x":{"datum":1381738225581,"type":"temporal"},"y":{"field":"v","type":"quantitative","title":null},"text":{"field":"t"}}},
{"data":{"name":"candles"},"mark":{"type":"rule","color":"#555555","strokeWidth":1},
 "encoding":{"x":{"field":"d","type":"temporal","title":null},"y":{"field":"l","type":"quantitative","title":null},"y2":{"field":"h"}}},
{"data":{"name":"candles"},"mark":{"type":"bar","width":2},
 "encoding":{"x":{"field":"d","type":"temporal","title":null},"y":{"field":"o","type":"quantitative","title":null},"y2":{"field":"c"},
  "color":{"condition":{"test":"datum.c >= datum.o","value":"#0b3b3b"},"value":"#e00000"}}},

{"data":{"values":[{"v":3008.8}]},"mark":{"type":"point","shape":"M-1,-0.29H1V0.29H-1Z","filled":true,"size":529,"color":"#000000","opacity":1,"strokeWidth":0,"yOffset":-0.3},
 "encoding":{"x":{"datum":1385288989715,"type":"temporal"},"y":{"field":"v","type":"quantitative","title":null}}},
{"data":{"values":[{"v":3008.8}]},"mark":{"type":"text","text":"3,008.8","color":"#ffffff","fontSize":4.8,"align":"center","baseline":"middle","yOffset":-0.3},
 "encoding":{"x":{"datum":1385288989715,"type":"temporal"},"y":{"field":"v","type":"quantitative","title":null}}},

{"data":{"values":[{"v":2995.44}]},"mark":{"type":"point","shape":"M-1,-0.29H1V0.29H-1Z","filled":true,"size":529,"color":"#c4c4c4","opacity":1,"strokeWidth":0,"yOffset":5.4},
 "encoding":{"x":{"datum":1385288989715,"type":"temporal"},"y":{"field":"v","type":"quantitative","title":null}}},
{"data":{"values":[{"v":2995.44}]},"mark":{"type":"text","text":"2,995.44","color":"#111111","fontSize":4.8,"align":"center","baseline":"middle","yOffset":5.4},
 "encoding":{"x":{"datum":1385288989715,"type":"temporal"},"y":{"field":"v","type":"quantitative","title":null}}},

{"data":{"values":[{"v":2678.63}]},"mark":{"type":"point","shape":"M-1,-0.29H1V0.29H-1Z","filled":true,"size":529,"color":"#ffc800","opacity":1,"strokeWidth":0,"yOffset":0},
 "encoding":{"x":{"datum":1385288989715,"type":"temporal"},"y":{"field":"v","type":"quantitative","title":null}}},
{"data":{"values":[{"v":2678.63}]},"mark":{"type":"text","text":"2,678.63","color":"#111111","fontSize":4.8,"align":"center","baseline":"middle","yOffset":0},
 "encoding":{"x":{"datum":1385288989715,"type":"temporal"},"y":{"field":"v","type":"quantitative","title":null}}},

{"data":{"values":[{"v":2566.46}]},"mark":{"type":"point","shape":"M-1,-0.29H1V0.29H-1Z","filled":true,"size":529,"color":"#00e400","opacity":1,"strokeWidth":0,"yOffset":-0.5},
 "encoding":{"x":{"datum":1385288989715,"type":"temporal"},"y":{"field":"v","type":"quantitative","title":null}}},
{"data":{"values":[{"v":2566.46}]},"mark":{"type":"text","text":"2,566.46","color":"#111111","fontSize":4.8,"align":"center","baseline":"middle","yOffset":-0.5},
 "encoding":{"x":{"datum":1385288989715,"type":"temporal"},"y":{"field":"v","type":"quantitative","title":null}}},

{"data":{"values":[{"v":2548.44}]},"mark":{"type":"point","shape":"M-1,-0.29H1V0.29H-1Z","filled":true,"size":529,"color":"#3c3cff","opacity":1,"strokeWidth":0,"yOffset":4.5},
 "encoding":{"x":{"datum":1385288989715,"type":"temporal"},"y":{"field":"v","type":"quantitative","title":null}}},
{"data":{"values":[{"v":2548.44}]},"mark":{"type":"text","text":"2,548.44","color":"#ffffff","fontSize":4.8,"align":"center","baseline":"middle","yOffset":4.5},
 "encoding":{"x":{"datum":1385288989715,"type":"temporal"},"y":{"field":"v","type":"quantitative","title":null}}},

{"data":{"values":[{"v":2518.84}]},"mark":{"type":"point","shape":"M-1,-0.29H1V0.29H-1Z","filled":true,"size":529,"color":"#e00000","opacity":1,"strokeWidth":0,"yOffset":7.8},
 "encoding":{"x":{"datum":1385288989715,"type":"temporal"},"y":{"field":"v","type":"quantitative","title":null}}},
{"data":{"values":[{"v":2518.84}]},"mark":{"type":"text","text":"2,518.84","color":"#ffffff","fontSize":4.8,"align":"center","baseline":"middle","yOffset":7.8},
 "encoding":{"x":{"datum":1385288989715,"type":"temporal"},"y":{"field":"v","type":"quantitative","title":null}}},

{"data":{"values":[{"v":2487.64}]},"mark":{"type":"point","shape":"M-1,-0.29H1V0.29H-1Z","filled":true,"size":529,"color":"#00007a","opacity":1,"strokeWidth":0,"yOffset":11},
 "encoding":{"x":{"datum":1385288989715,"type":"temporal"},"y":{"field":"v","type":"quantitative","title":null}}},
{"data":{"values":[{"v":2487.64}]},"mark":{"type":"text","text":"2,487.64","color":"#ffffff","fontSize":4.8,"align":"center","baseline":"middle","yOffset":11},
 "encoding":{"x":{"datum":1385288989715,"type":"temporal"},"y":{"field":"v","type":"quantitative","title":null}}},

{"data":{"values":[{"v":2042.23}]},"mark":{"type":"point","shape":"M-1,-0.29H1V0.29H-1Z","filled":true,"size":529,"color":"#ffffff","opacity":1,"strokeWidth":0,"yOffset":-1.5},
 "encoding":{"x":{"datum":1385288989715,"type":"temporal"},"y":{"field":"v","type":"quantitative","title":null}}},
{"data":{"values":[{"v":2042.23}]},"mark":{"type":"text","text":"2,042.23","color":"#222222","fontSize":4.8,"align":"center","baseline":"middle","yOffset":-1.5},
 "encoding":{"x":{"datum":1385288989715,"type":"temporal"},"y":{"field":"v","type":"quantitative","title":null}}},

{"data":{"values":[{"v":2042.23}]},"mark":{"type":"point","shape":"M-1,-0.29H1V0.29H-1Z","filled":true,"size":529,"color":"#b4b4b4","opacity":1,"strokeWidth":0,"yOffset":5.6},
 "encoding":{"x":{"datum":1385288989715,"type":"temporal"},"y":{"field":"v","type":"quantitative","title":null}}},
{"data":{"values":[{"v":2042.23}]},"mark":{"type":"text","text":"2,042.23","color":"#222222","fontSize":4.8,"align":"center","baseline":"middle","yOffset":5.6},
 "encoding":{"x":{"datum":1385288989715,"type":"temporal"},"y":{"field":"v","type":"quantitative","title":null}}},

{"data":{"values":[{}]},"mark":{"type":"text","text":"INFY - Weekly 02/08/2013 Open 2910, Hi 3020, Lo 2910, Close 3008.8 (3.3%) Vol 5,394,927","color":"#000000","fontSize":5.07,"align":"left","baseline":"middle"},
 "encoding":{"x":{"datum":1236958681557,"type":"temporal"},"y":{"datum":3598,"type":"quantitative"}}},
{"data":{"values":[{}]},"mark":{"type":"text","text":"MA(Close,15)","color":"#ff2a2a","fontSize":5.07,"align":"left","baseline":"middle"},
 "encoding":{"x":{"datum":1285180349306,"type":"temporal"},"y":{"datum":3598,"type":"quantitative"}}},
{"data":{"values":[{}]},"mark":{"type":"text","text":"= 2,518.84,","color":"#000000","fontSize":5.07,"align":"left","baseline":"middle"},
 "encoding":{"x":{"datum":1292602591752,"type":"temporal"},"y":{"datum":3598,"type":"quantitative"}}},
{"data":{"values":[{}]},"mark":{"type":"text","text":"Mid MA(Close,50)","color":"#3a3aff","fontSize":5.07,"align":"left","baseline":"middle"},
 "encoding":{"x":{"datum":1298764885636,"type":"temporal"},"y":{"datum":3598,"type":"quantitative"}}},
{"data":{"values":[{}]},"mark":{"type":"text","text":"= 2,548.44,","color":"#000000","fontSize":5.07,"align":"left","baseline":"middle"},
 "encoding":{"x":{"datum":1308386311030,"type":"temporal"},"y":{"datum":3598,"type":"quantitative"}}},
{"data":{"values":[{}]},"mark":{"type":"text","text":"Long MA(Close,100)","color":"#22dd22","fontSize":5.07,"align":"left","baseline":"middle"},
 "encoding":{"x":{"datum":1314548604913,"type":"temporal"},"y":{"datum":3598,"type":"quantitative"}}},
{"data":{"values":[{}]},"mark":{"type":"text","text":"= 2,566.46,","color":"#000000","fontSize":5.07,"align":"left","baseline":"middle"},
 "encoding":{"x":{"datum":1326094315386,"type":"temporal"},"y":{"datum":3598,"type":"quantitative"}}},
{"data":{"values":[{}]},"mark":{"type":"text","text":"BBTop(Close,15,2)","color":"#bdbdbd","fontSize":5.07,"align":"left","baseline":"middle"},
 "encoding":{"x":{"datum":1332256609269,"type":"temporal"},"y":{"datum":3598,"type":"quantitative"}}},
{"data":{"values":[{}]},"mark":{"type":"text","text":"= 2,995.44,","color":"#000000","fontSize":5.07,"align":"left","baseline":"middle"},
 "encoding":{"x":{"datum":1342450738556,"type":"temporal"},"y":{"datum":3598,"type":"quantitative"}}},
{"data":{"values":[{}]},"mark":{"type":"text","text":"BBBot(Close,15,2)","color":"#bdbdbd","fontSize":5.07,"align":"left","baseline":"middle"},
 "encoding":{"x":{"datum":1348613032439,"type":"temporal"},"y":{"datum":3598,"type":"quantitative"}}},
{"data":{"values":[{}]},"mark":{"type":"text","text":"= 2,042.23,","color":"#000000","fontSize":5.07,"align":"left","baseline":"middle"},
 "encoding":{"x":{"datum":1358555172013,"type":"temporal"},"y":{"datum":3598,"type":"quantitative"}}},
{"data":{"values":[{}]},"mark":{"type":"text","text":"EMA(Close,200)","color":"#1c1ca0","fontSize":5.07,"align":"left","baseline":"middle"},
 "encoding":{"x":{"datum":1364717465896,"type":"temporal"},"y":{"datum":3598,"type":"quantitative"}}},
{"data":{"values":[{}]},"mark":{"type":"text","text":"= 2,487.64,","color":"#000000","fontSize":5.07,"align":"left","baseline":"middle"},
 "encoding":{"x":{"datum":1373560013996,"type":"temporal"},"y":{"datum":3598,"type":"quantitative"}}},
{"data":{"values":[{}]},"mark":{"type":"text","text":"MA","color":"#f0c400","fontSize":5.07,"align":"left","baseline":"middle"},
 "encoding":{"x":{"datum":1379722307879,"type":"temporal"},"y":{"datum":3598,"type":"quantitative"}}}
]
}
